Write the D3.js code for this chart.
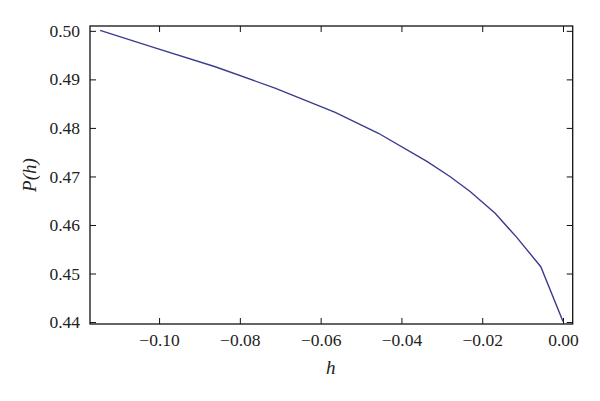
<!DOCTYPE html>
<html>
<head>
<meta charset="utf-8">
<script src="https://cdn.jsdelivr.net/npm/d3@7"></script>
<style>
    body { margin: 0; background: #fff; }
</style>
</head>
<body>
<div id="chart"></div>
<script>
// values
const hValues = [-0.1146, -0.1010, -0.0861, -0.0713, -0.0564, -0.0457, -0.0337, -0.0280, -0.0230, -0.0168, -0.0115, -0.0055, 0.0000]
const pValues = [0.5001, 0.4965, 0.4926, 0.4882, 0.4832, 0.4789, 0.4731, 0.4700, 0.4669, 0.4624, 0.4575, 0.4514, 0.4401]
const xTicks = [-0.10, -0.08, -0.06, -0.04, -0.02, 0.00]
const yTicks = [0.44, 0.45, 0.46, 0.47, 0.48, 0.49, 0.50]

const width = 600,
    height = 401
const margin = { top: 26, right: 27.3, bottom: 77, left: 90 }
const serif = 'Liberation Serif'

const svg = d3.select('#chart')
    .append('svg')
    .attr('width', width)
    .attr('height', height)

const x = d3.scaleLinear()
    .domain([-0.1171, 0.0024])
    .range([margin.left, width - margin.right])
const y = d3.scaleLinear()
    .domain([0.4396, 0.5010])
    .range([height - margin.bottom, margin.top])

// minor ticks: 0.005 on x, 0.002 on y
const xMinor = d3.range(-0.115, 0.0026, 0.005).filter(v => !xTicks.some(t => Math.abs(t - v) < 1e-6))
const yMinor = d3.range(0.440, 0.5011, 0.002).filter(v => !yTicks.some(t => Math.abs(t - v) < 1e-6))

const fmt = d3.format('.2f')

function drawAxis(axisFn, scale, major, minor, transform, labels) {
    const g = svg.append('g').attr('transform', transform)
    g.call(axisFn(scale).tickValues(minor).tickSize(-3).tickFormat(''))
    g.call(axisFn(scale).tickValues(major).tickSize(-6).tickPadding(labels ? 10 : 0)
        .tickFormat(labels ? fmt : ''))
    g.selectAll('.domain').remove()
    g.selectAll('line').attr('stroke', '#111').attr('stroke-width', 1)
    g.selectAll('text')
        .attr('fill', '#222')
        .attr('font-family', serif)
        .attr('font-size', 17.5)
    return g
}

const bottom = height - margin.bottom
const right = width - margin.right

drawAxis(d3.axisBottom, x, xTicks, xMinor, `translate(0,${bottom})`, true)
drawAxis(d3.axisTop, x, xTicks, xMinor, `translate(0,${margin.top})`, false)
drawAxis(d3.axisLeft, y, yTicks, yMinor, `translate(${margin.left},0)`, true)
drawAxis(d3.axisRight, y, yTicks, yMinor, `translate(${right},0)`, false)

// frame
svg.append('rect')
    .attr('x', margin.left)
    .attr('y', margin.top)
    .attr('width', right - margin.left)
    .attr('height', bottom - margin.top)
    .attr('fill', 'none')
    .attr('stroke', '#111')
    .attr('stroke-width', 1.3)

// curve
const line = d3.line()
    .x((d, i) => x(hValues[i]))
    .y(d => y(d))
svg.append('path')
    .datum(pValues)
    .attr('d', line)
    .attr('fill', 'none')
    .attr('stroke', '#3b3b8f')
    .attr('stroke-width', 1.4)

// axis titles
svg.append('text')
    .attr('x', x(-0.0575))
    .attr('y', 374)
    .attr('text-anchor', 'middle')
    .attr('font-family', serif)
    .attr('font-size', 19)
    .attr('font-style', 'italic')
    .attr('fill', '#222')
    .text('h')

svg.append('text')
    .attr('transform', `translate(36,${(margin.top + bottom) / 2}) rotate(-90)`)
    .attr('text-anchor', 'middle')
    .attr('font-family', serif)
    .attr('font-size', 19)
    .attr('font-style', 'italic')
    .attr('fill', '#222')
    .text('P(h)')
</script>
</body>
</html>
